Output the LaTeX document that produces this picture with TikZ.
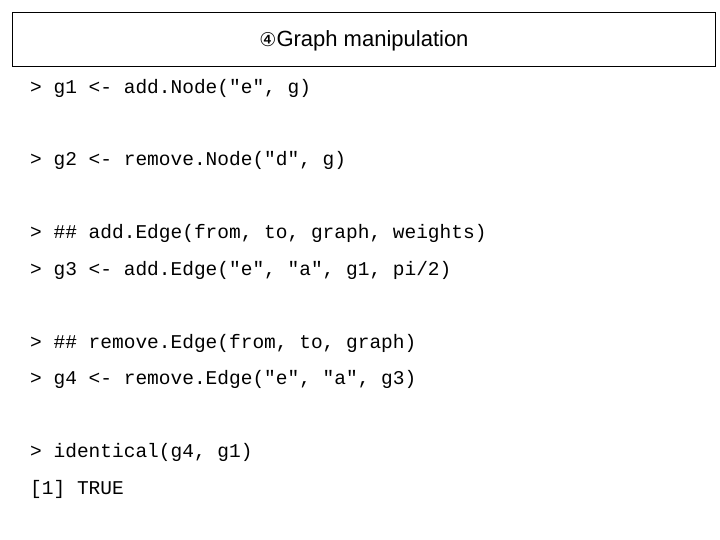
\documentclass[tikz,border=0pt]{standalone}
\usepackage{fontspec}
\setmainfont{Liberation Sans}
\setmonofont{Liberation Mono}
\newfontfamily\symfont{DejaVu Sans}
\usetikzlibrary{positioning}

\begin{document}
\begin{tikzpicture}[x=1pt,y=-1pt,
  codeline/.style={anchor=west,inner sep=0pt,font=\fontsize{19.5}{19.5}\selectfont\ttfamily}]
\useasboundingbox (0,0) rectangle (720,540);
\draw[line width=0.8pt] (12,12) rectangle (715,66);
\node (title) at (364,41) {\fontsize{22}{22}\selectfont{\symfont\fontsize{19}{19}\selectfont ④}Graph manipulation};

\node[codeline] (l1) at (30,88)  {> g1 <- add.Node("e", g)};
\node[codeline] (l2) at (30,160) {> g2 <- remove.Node("d", g)};
\node[codeline] (l3) at (30,233) {> \#\# add.Edge(from, to, graph, weights)};
\node[codeline] (l4) at (30,270) {> g3 <- add.Edge("e", "a", g1, pi/2)};
\node[codeline] (l5) at (30,343) {> \#\# remove.Edge(from, to, graph)};
\node[codeline] (l6) at (30,379) {> g4 <- remove.Edge("e", "a", g3)};
\node[codeline] (l7) at (30,452) {> identical(g4, g1)};
\node[codeline] (l8) at (30,489) {[1] TRUE};
\end{tikzpicture}
\end{document}
